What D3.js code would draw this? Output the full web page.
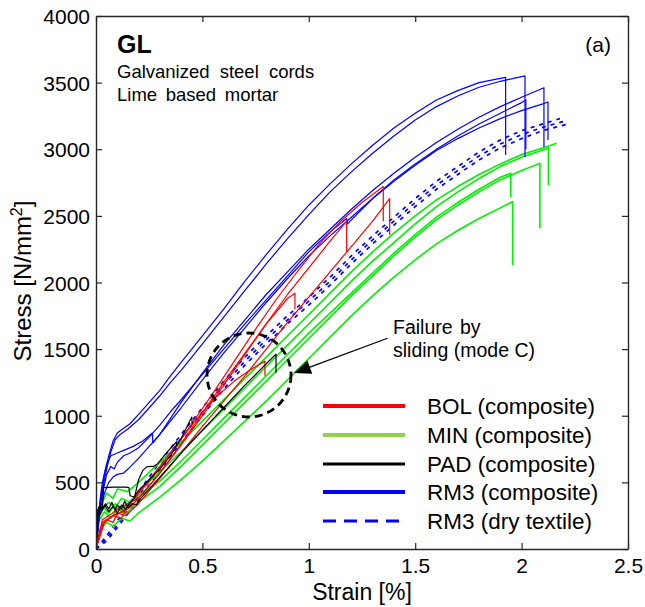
<!DOCTYPE html>
<html><head><meta charset="utf-8">
<script src="https://cdn.jsdelivr.net/npm/d3@7"></script>
<style>body{margin:0;background:#fff}svg{display:block}text{font-family:"Liberation Sans",Arial,Helvetica,sans-serif;fill:#000}</style>
</head><body>
<svg id="chart" width="645" height="607"></svg>
<script>
// ---------- data (strain %, stress N/mm2) ----------
const strainTicks = [0, 0.5, 1, 1.5, 2, 2.5];
const strainTickLabels = ["0", "0.5", "1", "1.5", "2", "2.5"];
const stressTicks = [0, 500, 1000, 1500, 2000, 2500, 3000, 3500, 4000];
const stressTickLabels = ["0", "500", "1000", "1500", "2000", "2500", "3000", "3500", "4000"];

const rm3Dry = [
 [[0,0],[0.05,80],[0.1,180],[0.2,400],[0.3,620],[0.4,830],[0.5,1030],[0.6,1230],[0.7,1410],[0.8,1570],[0.9,1720],[1.0,1860],[1.1,2010],[1.2,2170],[1.3,2320],[1.4,2460],[1.5,2600],[1.6,2730],[1.7,2840],[1.8,2950],[1.9,3040],[2.0,3110],[2.1,3165],[2.2,3210]],
 [[0,0],[0.05,100],[0.1,210],[0.2,430],[0.3,650],[0.4,860],[0.5,1060],[0.6,1260],[0.7,1440],[0.8,1600],[0.9,1750],[1.0,1890],[1.1,2040],[1.2,2200],[1.3,2350],[1.4,2490],[1.5,2630],[1.6,2760],[1.7,2870],[1.8,2980],[1.9,3070],[2.0,3140],[2.1,3190],[2.18,3230]],
 [[0,0],[0.05,60],[0.1,160],[0.2,370],[0.3,590],[0.4,800],[0.5,1000],[0.6,1200],[0.7,1380],[0.8,1540],[0.9,1690],[1.0,1830],[1.1,1980],[1.2,2140],[1.3,2290],[1.4,2430],[1.5,2570],[1.6,2700],[1.7,2810],[1.8,2920],[1.9,3010],[2.0,3080],[2.1,3140],[2.22,3190]]
];

const minComposite = [
 [[0,0],[0.01,250],[0.03,350],[0.05,420],[0.08,380],[0.1,450],[0.15,430],[0.2,500],[0.3,650],[0.4,800],[0.5,960],[0.6,1120],[0.7,1280],[0.8,1440],[0.9,1600],[1.0,1760],[1.1,1920],[1.2,2080],[1.3,2230],[1.4,2370],[1.5,2500],[1.6,2620],[1.7,2720],[1.8,2810],[1.9,2890],[2.0,2960],[2.1,3010],[2.165,3045]],
 [[0,0],[0.01,220],[0.03,300],[0.06,350],[0.09,310],[0.12,380],[0.16,350],[0.2,430],[0.3,580],[0.4,730],[0.5,890],[0.6,1050],[0.7,1210],[0.8,1370],[0.9,1530],[1.0,1690],[1.1,1850],[1.2,2010],[1.3,2160],[1.4,2300],[1.5,2440],[1.6,2570],[1.7,2680],[1.8,2780],[1.9,2870],[2.0,2940],[2.1,2995],[2.126,3010],[2.126,2730]],
 [[0,0],[0.01,200],[0.04,280],[0.07,230],[0.1,300],[0.14,260],[0.18,330],[0.25,410],[0.3,470],[0.4,620],[0.5,780],[0.6,940],[0.7,1100],[0.8,1260],[0.9,1420],[1.0,1580],[1.1,1740],[1.2,1900],[1.3,2050],[1.4,2200],[1.5,2340],[1.6,2470],[1.7,2580],[1.8,2680],[1.9,2770],[2.0,2840],[2.086,2894],[2.086,2407]],
 [[0,0],[0.01,230],[0.03,320],[0.06,270],[0.09,340],[0.12,290],[0.16,360],[0.2,400],[0.3,510],[0.4,660],[0.5,820],[0.6,980],[0.7,1140],[0.8,1300],[0.9,1460],[1.0,1620],[1.1,1770],[1.2,1920],[1.3,2070],[1.4,2220],[1.5,2360],[1.6,2490],[1.7,2600],[1.8,2700],[1.9,2790],[1.949,2820],[1.949,2640]],
 [[0,0],[0.02,150],[0.05,200],[0.08,170],[0.12,230],[0.16,210],[0.2,270],[0.3,390],[0.4,520],[0.5,660],[0.6,810],[0.7,960],[0.8,1110],[0.9,1270],[1.0,1430],[1.1,1590],[1.2,1750],[1.3,1900],[1.4,2040],[1.5,2170],[1.6,2290],[1.7,2390],[1.8,2480],[1.9,2560],[1.958,2607],[1.958,2131]]
];

const rm3Composite = [
 [[0,0],[0.008,150],[0.015,300],[0.025,420],[0.04,560],[0.06,700],[0.08,810],[0.1,870],[0.12,895],[0.16,940],[0.2,1010],[0.25,1100],[0.3,1190],[0.35,1300],[0.4,1400],[0.5,1600],[0.6,1800],[0.7,2010],[0.8,2210],[0.9,2400],[1.0,2580],[1.1,2740],[1.2,2890],[1.3,3030],[1.4,3160],[1.5,3270],[1.6,3370],[1.7,3440],[1.8,3500],[1.9,3532],[1.925,3540],[1.925,2957]],
 [[0,0],[0.01,170],[0.02,330],[0.035,480],[0.05,600],[0.07,730],[0.09,820],[0.11,855],[0.15,900],[0.2,970],[0.25,1060],[0.3,1150],[0.35,1250],[0.4,1340],[0.5,1540],[0.6,1740],[0.7,1940],[0.8,2140],[0.9,2330],[1.0,2510],[1.1,2680],[1.2,2830],[1.3,2970],[1.4,3100],[1.5,3220],[1.6,3320],[1.7,3400],[1.8,3465],[1.9,3510],[2.0,3545],[2.016,3550],[2.016,2942]],
 [[0,0],[0.01,200],[0.02,380],[0.03,500],[0.05,640],[0.07,700],[0.1,720],[0.13,740],[0.175,770],[0.22,810],[0.265,870],[0.267,795],[0.3,860],[0.35,980],[0.4,1100],[0.5,1320],[0.6,1530],[0.7,1720],[0.8,1910],[0.9,2080],[1.0,2250],[1.1,2400],[1.2,2550],[1.3,2690],[1.4,2820],[1.5,2940],[1.6,3050],[1.7,3150],[1.8,3240],[1.9,3320],[2.0,3390],[2.105,3462],[2.105,3017]],
 [[0,0],[0.01,180],[0.02,330],[0.035,450],[0.05,560],[0.07,620],[0.085,600],[0.1,650],[0.13,700],[0.16,720],[0.2,760],[0.25,840],[0.3,930],[0.35,1030],[0.4,1120],[0.5,1310],[0.6,1500],[0.7,1690],[0.8,1870],[0.9,2050],[1.0,2230],[1.1,2380],[1.178,2480],[1.182,2440],[1.2,2470],[1.3,2630],[1.4,2770],[1.5,2890],[1.6,3000],[1.7,3100],[1.8,3190],[1.9,3270],[2.0,3350],[2.02,3370],[2.02,3000]],
 [[0,0],[0.01,150],[0.02,300],[0.04,420],[0.06,500],[0.08,540],[0.1,560],[0.13,570],[0.15,600],[0.2,680],[0.25,770],[0.3,860],[0.35,960],[0.4,1060],[0.5,1270],[0.6,1470],[0.7,1660],[0.8,1850],[0.9,2030],[1.0,2200],[1.1,2350],[1.2,2490],[1.3,2630],[1.4,2760],[1.5,2880],[1.6,2990],[1.7,3080],[1.8,3160],[1.9,3230],[2.0,3290],[2.1,3340],[2.124,3355],[2.124,3070]]
];

const bolComposite = [
 [[0,0],[0.02,150],[0.05,220],[0.08,200],[0.1,260],[0.15,300],[0.2,380],[0.3,570],[0.4,780],[0.5,1000],[0.6,1230],[0.7,1460],[0.8,1690],[0.9,1910],[1.0,2110],[1.1,2310],[1.178,2460],[1.178,2230]],
 [[0,0],[0.04,200],[0.07,240],[0.1,270],[0.14,250],[0.2,340],[0.3,530],[0.4,720],[0.5,920],[0.6,1110],[0.7,1300],[0.8,1500],[0.9,1700],[1.0,1890],[1.1,2080],[1.2,2270],[1.3,2460],[1.38,2630],[1.38,2357]],
 [[0,0],[0.03,180],[0.06,230],[0.08,250],[0.12,280],[0.15,320],[0.25,510],[0.35,720],[0.45,940],[0.55,1170],[0.65,1410],[0.75,1650],[0.85,1880],[0.95,2090],[1.05,2290],[1.15,2460],[1.25,2600],[1.35,2720],[1.35,2460]],
 [[0,0],[0.03,200],[0.08,250],[0.12,230],[0.15,330],[0.25,520],[0.35,720],[0.45,930],[0.55,1120],[0.65,1260],[0.72,1340],[0.794,1410],[0.794,1300]],
 [[0,0],[0.03,220],[0.07,260],[0.1,300],[0.2,380],[0.3,570],[0.4,790],[0.5,1020],[0.6,1250],[0.7,1470],[0.8,1690],[0.9,1880],[0.935,1920],[0.935,1800]]
];

const padComposite = [
 [[0,0],[0.005,250],[0.01,290],[0.02,320],[0.03,300],[0.035,460],[0.08,465],[0.14,465],[0.155,460],[0.16,400],[0.18,390],[0.2,440],[0.25,520],[0.3,600],[0.35,700],[0.4,830],[0.45,990],[0.452,940]],
 [[0,0],[0.008,280],[0.015,320],[0.03,290],[0.045,340],[0.06,300],[0.075,350],[0.09,290],[0.1,330],[0.12,300],[0.135,360],[0.15,310],[0.17,340],[0.19,330],[0.21,380],[0.25,450],[0.3,540],[0.35,630],[0.4,720],[0.5,890],[0.6,1060],[0.7,1230],[0.8,1390],[0.846,1463],[0.846,1323]],
 [[0,0],[0.01,300],[0.02,260],[0.04,330],[0.06,280],[0.08,320],[0.1,270],[0.12,330],[0.14,300],[0.16,350],[0.18,380],[0.2,520],[0.22,590],[0.24,618],[0.27,620],[0.29,640],[0.33,720],[0.379,805],[0.38,780]]
];

const legendLabels = ["BOL (composite)", "MIN (composite)", "PAD (composite)", "RM3 (composite)", "RM3 (dry textile)"];
const legendColors = ["#ff0000", "#92d050", "#000000", "#0000ff", "#0000ff"];
const annotationCircle = [0.719, 1306];
const annotationArrowFrom = [1.37, 1582];
const annotationArrowTo = [0.93, 1320];

// ---------- layout ----------
const L = 96, R = 628, T = 16, B = 549;
const svg = d3.select("#chart");
const x = d3.scaleLinear().domain([0, 2.5]).range([L, R]);
const y = d3.scaleLinear().domain([0, 4000]).range([B, T]);
const line = d3.line().x(d => x(d[0])).y(d => y(d[1]));

svg.append("defs").append("clipPath").attr("id", "clip")
  .append("rect").attr("x", L).attr("y", T).attr("width", R - L).attr("height", B - T);
const plot = svg.append("g").attr("clip-path", "url(#clip)");

function drawSet(set, color, width, dash) {
  plot.append("g").selectAll("path").data(set).join("path")
    .attr("d", line).attr("fill", "none").attr("stroke", color)
    .attr("stroke-width", width).attr("stroke-linejoin", "round")
    .attr("stroke-dasharray", dash || null);
}
drawSet(rm3Dry, "#0000ff", 1.7, "4,5");
drawSet(minComposite, "#00f000", 1.6);
drawSet(rm3Composite, "#0000ff", 1.2);
drawSet(bolComposite, "#ff0000", 1.2);
drawSet(padComposite, "#000000", 1.2);

// ---------- axes ----------
const axisColor = "#262626";
const gx = svg.append("g").attr("transform", `translate(0,${B})`)
  .call(d3.axisBottom(x).tickValues(strainTicks).tickFormat((d, i) => strainTickLabels[i]).tickSizeInner(-6).tickSizeOuter(0).tickPadding(9));
const gy = svg.append("g").attr("transform", `translate(${L},0)`)
  .call(d3.axisLeft(y).tickValues(stressTicks).tickFormat((d, i) => stressTickLabels[i]).tickSizeInner(-6).tickSizeOuter(0).tickPadding(6));
const gxt = svg.append("g").attr("transform", `translate(0,${T})`)
  .call(d3.axisTop(x).tickValues(strainTicks).tickFormat("").tickSizeInner(-6).tickSizeOuter(0));
const gyr = svg.append("g").attr("transform", `translate(${R},0)`)
  .call(d3.axisRight(y).tickValues(stressTicks).tickFormat("").tickSizeInner(-6).tickSizeOuter(0));
[gx, gy, gxt, gyr].forEach(g => {
  g.selectAll(".domain").attr("stroke", axisColor).attr("stroke-width", 1.4);
  g.selectAll(".tick line").attr("stroke", axisColor).attr("stroke-width", 1.2);
  g.selectAll("text").attr("font-size", 21).attr("fill", "#262626")
    .attr("font-family", '"Liberation Sans",Arial,sans-serif');
});
gy.selectAll("text").attr("dy", "0.36em");

svg.append("text").attr("x", (L + R) / 2).attr("y", 600).attr("text-anchor", "middle")
  .attr("font-size", 23).attr("fill", "#262626").text("Strain [%]");
const yl = svg.append("text").attr("transform", `translate(31,281) rotate(-90)`)
  .attr("text-anchor", "middle").attr("font-size", 24).attr("fill", "#262626");
yl.append("tspan").text("Stress [N/mm");
yl.append("tspan").attr("dy", -9).attr("font-size", 16).text("2");
yl.append("tspan").attr("dy", 9).text("]");

// ---------- texts ----------
svg.append("text").attr("x", 117).attr("y", 53).attr("font-size", 25).attr("font-weight", "bold").text("GL");
svg.append("text").attr("x", 117).attr("y", 78).attr("font-size", 18.5).attr("word-spacing", 5).text("Galvanized steel cords");
svg.append("text").attr("x", 117).attr("y", 101).attr("font-size", 18.5).attr("word-spacing", 3.5).text("Lime based mortar");
svg.append("text").attr("x", 611).attr("y", 52).attr("text-anchor", "end").attr("font-size", 21).text("(a)");

// annotation
svg.append("circle").attr("cx", x(annotationCircle[0])).attr("cy", y(annotationCircle[1])).attr("r", 42)
  .attr("fill", "none").attr("stroke", "#000").attr("stroke-width", 2.8).attr("stroke-dasharray", "8,5");
const ax1 = x(annotationArrowFrom[0]), ay1 = y(annotationArrowFrom[1]);
const ax2 = x(annotationArrowTo[0]), ay2 = y(annotationArrowTo[1]);
const ang = Math.atan2(ay2 - ay1, ax2 - ax1);
const hl = 17, hw = 7;
const bx = ax2 - hl * Math.cos(ang), by = ay2 - hl * Math.sin(ang);
svg.append("line").attr("x1", ax1).attr("y1", ay1).attr("x2", bx).attr("y2", by).attr("stroke", "#000").attr("stroke-width", 1.2);
svg.append("path").attr("d", `M${ax2},${ay2} L${bx + hw * Math.sin(ang)},${by - hw * Math.cos(ang)} L${bx - hw * Math.sin(ang)},${by + hw * Math.cos(ang)} Z`).attr("fill", "#000");
svg.append("text").attr("x", 393).attr("y", 334).attr("font-size", 19.5).attr("word-spacing", 2).text("Failure by");
svg.append("text").attr("x", 393).attr("y", 357).attr("font-size", 19.5).text("sliding (mode C)");

// ---------- legend ----------
const legY = [406, 435, 464, 492, 521];
const lg = svg.append("g");
legendLabels.forEach((lab, i) => {
  lg.append("line").attr("x1", 323).attr("x2", 405).attr("y1", legY[i]).attr("y2", legY[i])
    .attr("stroke", legendColors[i]).attr("stroke-width", i === 2 ? 3 : (i === 4 ? 3 : 4))
    .attr("stroke-dasharray", i === 4 ? "13,8" : null);
  lg.append("text").attr("x", 427).attr("y", legY[i] + 8).attr("font-size", 22.5).text(lab);
});
</script>
</body></html>
